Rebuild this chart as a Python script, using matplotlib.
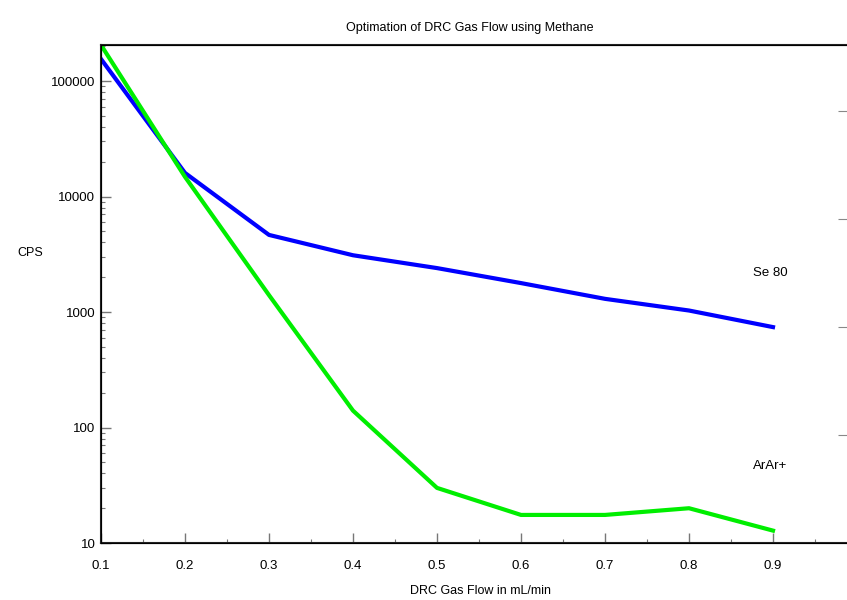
import matplotlib
matplotlib.use("Agg")
import matplotlib.pyplot as plt
from matplotlib.ticker import MultipleLocator, LogLocator, NullFormatter, FixedLocator

flow = [0.1, 0.2, 0.3, 0.4, 0.5, 0.6, 0.7, 0.8, 0.9]
se80 = [155000, 16000, 4650, 3100, 2400, 1780, 1300, 1030, 740]
arar = [205000, 14800, 1400, 140, 30, 17.5, 17.5, 20, 12.8]
ytick_vals = [10, 100, 1000, 10000, 100000]
ytick_labels = ["10", "100", "1000", "10000", "100000"]

plt.rcParams['font.family'] = ['Liberation Sans', 'DejaVu Sans']
W, H = 847, 600
fig = plt.figure(figsize=(W / 100, H / 100), dpi=100)
x0, x1, yt, yb = 101, 857, 45, 543
ax = fig.add_axes([x0 / W, 1 - yb / H, (x1 - x0) / W, (yb - yt) / H])

ax.plot(flow, se80, color='#0000ff', lw=3, solid_joinstyle='round')
ax.plot(flow, arar, color='#00ee00', lw=3, solid_joinstyle='round')
ax.set_yscale('log')
ax.set_xlim(0.1, 1.0)
ax.set_ylim(10, 2.05e5)
ax.set_yticks(ytick_vals)
ax.set_yticklabels(ytick_labels)
ax.yaxis.set_minor_locator(LogLocator(base=10, subs=range(2, 10)))
ax.yaxis.set_minor_formatter(NullFormatter())
ax.xaxis.set_major_locator(MultipleLocator(0.1))
ax.xaxis.set_minor_locator(MultipleLocator(0.05))
ax.set_xticklabels([f"{v:.1f}" for v in ax.get_xticks()])
ax.tick_params(which='both', direction='in', colors='#777777', labelcolor='black', labelsize=9.5)
ax.tick_params(which='major', length=7, width=1)
ax.tick_params(which='minor', length=3, width=0.8)
ax.tick_params(axis='x', pad=12)
ax.tick_params(axis='y', pad=4)
for s in ax.spines.values():
    s.set_linewidth(1.5)
    s.set_color('#222222')

ax2 = ax.twinx()
ax2.set_ylim(0, (yb - yt) / 108)
ax2.yaxis.set_major_locator(FixedLocator([1, 2, 3, 4]))
ax2.yaxis.set_minor_locator(MultipleLocator(0.25))
ax2.tick_params(which='both', direction='in', colors='#888888', labelright=False)
ax2.tick_params(which='major', length=14)
ax2.tick_params(which='minor', length=5)

fig.text(470 / W, 1 - 28 / H, "Optimation of DRC Gas Flow using Methane", ha='center', va='center', fontsize=9)
fig.text(480 / W, 1 - 591 / H, "DRC Gas Flow in mL/min", ha='center', va='center', fontsize=9)
fig.text(30 / W, 1 - 253 / H, "CPS", ha='center', va='center', fontsize=9)
fig.text(770 / W, 1 - 273 / H, "Se 80", ha='center', va='center', fontsize=9.5)
fig.text(770 / W, 1 - 466 / H, "ArAr+", ha='center', va='center', fontsize=9.5)

fig.savefig("out.png", dpi=100)
